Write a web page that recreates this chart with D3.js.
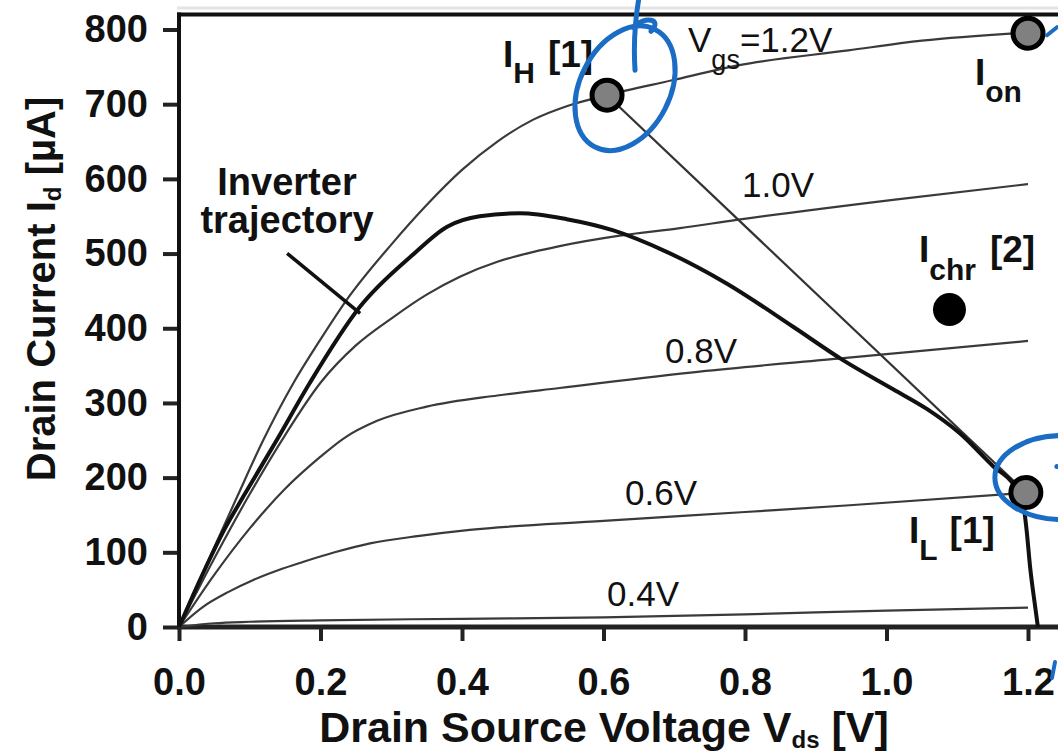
<!DOCTYPE html>
<html>
<head>
<meta charset="utf-8">
<script src="https://cdn.jsdelivr.net/npm/d3@7"></script>
<style>
  body { margin: 0; background: #fff; }
  svg { display: block; }
</style>
</head>
<body>
<div class="chart"></div>
<script>
// Id-Vds family (Vds in V, Id in uA)
const vds12 = [0, 0.04, 0.082, 0.119, 0.162, 0.2, 0.237, 0.3, 0.35, 0.4, 0.45, 0.5, 0.55, 0.605, 0.697, 0.79, 0.946, 1.05, 1.2]
const id12 = [0, 86, 174, 250, 327, 385, 438, 512, 565, 612, 650, 679, 698, 712, 732, 752, 772, 785, 796]

const vds10 = [0, 0.05, 0.1, 0.15, 0.2, 0.25, 0.303, 0.35, 0.397, 0.45, 0.5, 0.538, 0.623, 0.708, 0.788, 1.009, 1.2]
const id10 = [0, 92, 178, 257, 327, 377, 415, 445, 469, 489, 502, 510, 524, 534, 545, 572, 593]

const vds08 = [0, 0.05, 0.1, 0.15, 0.2, 0.232, 0.28, 0.35, 0.45, 0.538, 0.736, 0.939, 1.2]
const id08 = [0, 70, 132, 185, 228, 252, 276, 295, 310, 320, 342, 360, 383]

const vds06 = [0, 0.034, 0.07, 0.105, 0.14, 0.175, 0.22, 0.27, 0.34, 0.411, 0.6, 0.8, 0.948, 1.2]
const id06 = [0, 27, 47, 63, 76, 87, 100, 112, 122, 130, 142, 154, 163, 180]

const vds04 = [0, 0.05, 0.1, 0.2, 0.4, 0.6, 0.8, 1.0, 1.2]
const id04 = [0, 5, 7, 9, 11, 13, 17, 22, 26]

// inverter trajectory
const trajVds = [0, 0.034, 0.065, 0.093, 0.138, 0.185, 0.256, 0.33, 0.379, 0.425, 0.482, 0.548, 0.614, 0.69, 0.774, 0.868, 0.939, 1.01, 1.057, 1.104, 1.151, 1.18, 1.193, 1.198, 1.203, 1.209, 1.214]
const trajId = [0, 72, 132, 178, 250, 327, 429, 498, 536, 550, 554, 546, 531, 502, 460, 402, 357, 318, 292, 259, 215, 190, 165, 130, 80, 35, 0]

// operating points
const pointNames = ["IH", "Ion", "IL", "Ichr"]
const pointVds = [0.605, 1.2, 1.197, 1.089]
const pointId = [712, 795, 180, 425]

const xTicks = [0, 0.2, 0.4, 0.6, 0.8, 1.0, 1.2]
const yTicks = [0, 100, 200, 300, 400, 500, 600, 700, 800]

const width = 1058, height = 752
const font = '"Liberation Sans", Arial, Helvetica, sans-serif'
const blue = "#1b6cc4"

const x = d3.scaleLinear().domain([0, 1.2]).range([179, 1028])
const y = d3.scaleLinear().domain([0, 800]).range([627, 29.5])

const svg = d3.select(".chart").append("svg")
    .attr("width", width)
    .attr("height", height)
    .style("font-family", font)

svg.append("rect").attr("width", width).attr("height", height).attr("fill", "#fff")

// faint scan edge above the frame
svg.append("line")
    .attr("x1", x(0) - 2).attr("x2", width)
    .attr("y1", 8).attr("y2", 8)
    .attr("stroke", "#e4e4e4").attr("stroke-width", 3)

const yTop = y(820)

// axes
svg.append("g")
    .attr("transform", `translate(${x(0)},0)`)
    .call(d3.axisLeft(y).tickValues(yTicks).tickSize(16).tickPadding(15).tickFormat(d3.format("d")))
    .call(g => g.select(".domain").remove())
    .call(g => g.selectAll(".tick line").attr("stroke", "#222").attr("stroke-width", 4))
    .call(g => g.selectAll(".tick text")
        .attr("font-size", 38).attr("font-weight", "bold").attr("fill", "#111").attr("font-family", font))

svg.append("g")
    .attr("transform", `translate(0,${y(0)})`)
    .call(d3.axisBottom(x).tickValues(xTicks).tickSize(14).tickPadding(27).tickFormat(d3.format(".1f")))
    .call(g => g.select(".domain").remove())
    .call(g => g.selectAll(".tick line").attr("stroke", "#222").attr("stroke-width", 4))
    .call(g => g.selectAll(".tick text")
        .attr("font-size", 38).attr("font-weight", "bold").attr("fill", "#111").attr("font-family", font))

// frame
svg.append("line").attr("x1", x(0)).attr("x2", x(0)).attr("y1", y(0) + 2).attr("y2", yTop - 2)
    .attr("stroke", "#111").attr("stroke-width", 4)
svg.append("line").attr("x1", x(0) - 2).attr("x2", width).attr("y1", y(0)).attr("y2", y(0))
    .attr("stroke", "#222").attr("stroke-width", 5)
svg.append("line").attr("x1", x(0) - 2).attr("x2", width).attr("y1", yTop).attr("y2", yTop)
    .attr("stroke", "#111").attr("stroke-width", 4)

// curves
const line = d3.line()
    .x(d => x(d[0]))
    .y(d => y(d[1]))
    .curve(d3.curveMonotoneX)

const family = [
    [vds12, id12], [vds10, id10], [vds08, id08], [vds06, id06], [vds04, id04]
]

svg.append("g").selectAll("path")
    .data(family)
    .enter().append("path")
    .attr("d", ([v, i]) => line(d3.zip(v, i)))
    .attr("fill", "none")
    .attr("stroke", "#3a3a3a")
    .attr("stroke-width", 2.2)

// load line I_H -> I_L
svg.append("path")
    .attr("d", d3.line()([[x(pointVds[0]), y(pointId[0])], [x(pointVds[2]), y(pointId[2])]]))
    .attr("stroke", "#333")
    .attr("stroke-width", 2.2)

svg.append("path")
    .attr("d", line(d3.zip(trajVds, trajId)))
    .attr("fill", "none")
    .attr("stroke", "#111")
    .attr("stroke-width", 4)

// leader for the trajectory label
const lx = x(0.256), ly = y(420)
svg.append("line")
    .attr("x1", lx - 73).attr("y1", ly - 60)
    .attr("x2", lx).attr("y2", ly)
    .attr("stroke", "#111").attr("stroke-width", 3.5)

// operating points
svg.append("g").selectAll("circle")
    .data(pointNames)
    .enter().append("circle")
    .attr("cx", (d, k) => x(pointVds[k]))
    .attr("cy", (d, k) => y(pointId[k]))
    .attr("r", d => d === "Ichr" ? 16.5 : 15)
    .attr("fill", d => d === "Ichr" ? "#000" : "#808080")
    .attr("stroke", "#000")
    .attr("stroke-width", d => d === "Ichr" ? 0 : 5)

// text helpers
function label(px, py, main, sub, tail, opt) {
    const t = svg.append("text")
        .attr("x", px).attr("y", py)
        .attr("font-size", opt.size)
        .attr("font-weight", opt.weight)
        .attr("fill", "#111")
    t.append("tspan").text(main)
    if (sub) t.append("tspan").attr("font-size", opt.subSize).attr("dy", opt.subDy).text(sub)
    if (tail) t.append("tspan").attr("dy", sub ? -opt.subDy : 0).attr("dx", opt.gap || 0).text(tail)
    return t
}

const iOpt = { size: 37, weight: "bold", subSize: 30, subDy: 16 }
label(503, 67, "I", "H", "[1]", { ...iOpt, gap: 13 })
label(975, 85, "I", "on", null, { ...iOpt, subDy: 17 })
label(919, 262, "I", "chr", "[2]", { ...iOpt, subDy: 18, gap: 14 })
label(909, 543, "I", "L", "[1]", { ...iOpt, subDy: 17, gap: 12 })

const vOpt = { size: 35, weight: "normal", subSize: 27, subDy: 17 }
label(688, 52, "V", "gs", "=1.2V", vOpt)
label(742, 197, "1.0V", null, null, vOpt)
label(665, 363, "0.8V", null, null, vOpt)
label(625, 505, "0.6V", null, null, vOpt)
label(607, 606, "0.4V", null, null, vOpt)

svg.append("text")
    .attr("x", 287).attr("y", 195)
    .attr("text-anchor", "middle")
    .attr("font-size", 38).attr("font-weight", "bold").attr("fill", "#111")
    .text("Inverter")
svg.append("text")
    .attr("x", 287).attr("y", 233)
    .attr("text-anchor", "middle")
    .attr("font-size", 38).attr("font-weight", "bold").attr("fill", "#111")
    .text("trajectory")

// axis titles
const xt = svg.append("text")
    .attr("x", 604).attr("y", 742)
    .attr("text-anchor", "middle")
    .attr("font-size", 43).attr("font-weight", "bold").attr("fill", "#111")
xt.append("tspan").text("Drain Source Voltage V")
xt.append("tspan").attr("font-size", 24).attr("dy", 6).text("ds")
xt.append("tspan").attr("dy", -6).text(" [V]")

const yt = svg.append("text")
    .attr("transform", "translate(55,289) rotate(-90)")
    .attr("text-anchor", "middle")
    .attr("font-size", 40).attr("font-weight", "bold").attr("fill", "#111")
yt.append("tspan").text("Drain Current I")
yt.append("tspan").attr("font-size", 24).attr("dy", 6).text("d")
yt.append("tspan").attr("dy", -6).text(" [µA]")

// hand-drawn blue marks on the scan
const hx = x(pointVds[0]), hy = y(pointId[0])
svg.append("ellipse")
    .attr("cx", hx + 18).attr("cy", hy - 7)
    .attr("rx", 45).attr("ry", 66)
    .attr("transform", `rotate(27,${hx + 18},${hy - 7})`)
    .attr("fill", "none").attr("stroke", blue).attr("stroke-width", 5)
svg.append("path")
    .attr("d", `M${hx + 28},${hy - 25} C${hx + 26},${hy - 55} ${hx + 28},${hy - 75} ${hx + 32},${hy - 98}` +
        ` M${hx + 26},${hy - 68} C${hx + 38},${hy - 80} ${hx + 56},${hy - 76} ${hx + 44},${hy - 64}`)
    .attr("fill", "none").attr("stroke", blue).attr("stroke-width", 5).attr("stroke-linecap", "round")

const lxp = x(pointVds[2]), lyp = y(pointId[2])
svg.append("ellipse")
    .attr("cx", lxp + 36).attr("cy", lyp - 15)
    .attr("rx", 67).attr("ry", 42)
    .attr("fill", "none").attr("stroke", blue).attr("stroke-width", 5)
svg.append("circle").attr("cx", lxp + 31).attr("cy", lyp - 26).attr("r", 2.5).attr("fill", blue)

const ox = x(pointVds[1]), oy = y(pointId[1])
svg.append("line")
    .attr("x1", ox + 19).attr("y1", oy + 2).attr("x2", ox + 29).attr("y2", oy - 6)
    .attr("stroke", blue).attr("stroke-width", 4).attr("stroke-linecap", "round")
svg.append("line")
    .attr("x1", 1055).attr("y1", 662).attr("x2", 1052).attr("y2", 678)
    .attr("stroke", blue).attr("stroke-width", 4).attr("stroke-linecap", "round")
</script>
</body>
</html>
